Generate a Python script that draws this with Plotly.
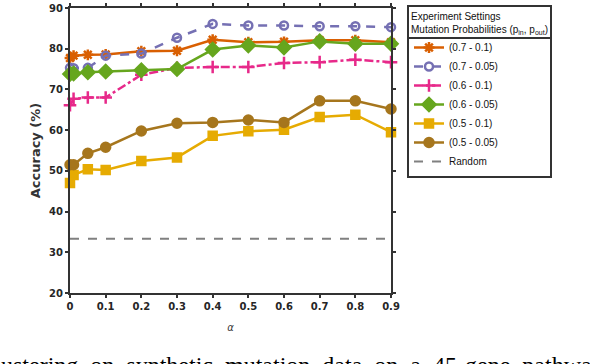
import plotly.graph_objects as go

# alpha values (x axis)
alpha = [0, 0.01, 0.05, 0.1, 0.2, 0.3, 0.4, 0.5, 0.6, 0.7, 0.8, 0.9]

# accuracy (%) per experiment setting
acc_07_01 = [77.7, 78.3, 78.5, 78.6, 79.4, 79.5, 82.2, 81.6, 81.7, 82.1, 82.1, 81.6]
acc_07_005 = [75.3, 75.2, 75.3, 78.3, 78.8, 82.7, 86.1, 85.7, 85.7, 85.5, 85.5, 85.3]
acc_06_01 = [66.1, 67.7, 68.0, 68.0, 73.6, 75.3, 75.5, 75.5, 76.5, 76.7, 77.3, 76.7]
acc_06_005 = [73.8, 73.9, 74.2, 74.4, 74.7, 75.0, 79.8, 80.8, 80.3, 81.8, 81.2, 81.2]
acc_05_01 = [47.0, 49.0, 50.4, 50.2, 52.4, 53.3, 58.6, 59.7, 60.1, 63.2, 63.8, 59.5]
acc_05_005 = [51.5, 51.5, 54.3, 55.8, 59.8, 61.7, 61.9, 62.5, 61.9, 67.2, 67.2, 65.2]
random_acc = 33.3

x_ticks = [0, 0.1, 0.2, 0.3, 0.4, 0.5, 0.6, 0.7, 0.8, 0.9]
x_tick_text = ["0", "0.1", "0.2", "0.3", "0.4", "0.5", "0.6", "0.7", "0.8", "0.9"]
y_ticks = [20, 30, 40, 50, 60, 70, 80, 90]

caption = "ustering on synthetic mutation data on a 45-gene pathway"

W, H = 590, 364

fig = go.Figure()

series = [
    ("(0.7 - 0.1)", acc_07_01, "#D95F02", "solid", "asterisk-open", 9),
    ("(0.7 - 0.05)", acc_07_005, "#7570B3", "dash", "circle-open", 8),
    ("(0.6 - 0.1)", acc_06_01, "#E7298A", "dashdot", "cross-thin-open", 9),
    ("(0.6 - 0.05)", acc_06_005, "#66A61E", "solid", "diamond", 10),
    ("(0.5 - 0.1)", acc_05_01, "#E6AB02", "solid", "square", 8),
    ("(0.5 - 0.05)", acc_05_005, "#A6761D", "solid", "circle", 9),
]

for name, vals, col, dash, sym, size in series:
    fig.add_trace(go.Scatter(
        x=alpha, y=vals, name=name, mode="lines+markers",
        line=dict(color=col, width=2.5, dash=dash),
        marker=dict(symbol=sym, size=size, color=col,
                    line=dict(color=col, width=2.5)),
        cliponaxis=False,
    ))

fig.add_trace(go.Scatter(
    x=[x_ticks[0], x_ticks[-1]], y=[random_acc, random_acc], name="Random",
    mode="lines", line=dict(color="#808080", width=2, dash="dash"),
))

axis_common = dict(
    showline=True, linecolor="#333333", linewidth=2, mirror="ticks",
    ticks="outside", ticklen=3, tickwidth=2, tickcolor="#333333",
    showgrid=False, zeroline=False, automargin=False,
    tickfont=dict(family="DejaVu Sans", size=10, color="#262626", weight="bold"),
)

fig.update_xaxes(range=[0, 0.9], tickvals=x_ticks, ticktext=x_tick_text,
                 title=dict(text="<i>α</i>", font=dict(family="DejaVu Sans", size=10, color="#333333"), standoff=13),
                 **axis_common)
fig.update_yaxes(range=[20, 90], tickvals=y_ticks,
                 title=dict(text="<b>Accuracy (%)</b>", font=dict(family="DejaVu Sans", size=13, color="#333333"), standoff=6),
                 **axis_common)

fig.update_layout(
    width=W, height=H,
    margin=dict(l=70, r=199, t=8, b=71),
    plot_bgcolor="white", paper_bgcolor="white",
    font=dict(family="DejaVu Sans", color="#262626"),
    legend=dict(
        xref="container", yref="container",
        x=407 / W, xanchor="left", y=1 - 5 / H, yanchor="top",
        bordercolor="#333333", borderwidth=2, bgcolor="rgba(0,0,0,0)",
        font=dict(family="Liberation Sans", size=10, color="#111111"),
        title=dict(text="Experiment Settings<br>Mutation Probabilities (p<sub>in</sub>, p<sub>out</sub>)",
                   side="top center",
                   font=dict(family="Liberation Sans", size=10, color="#111111")),
        itemwidth=30, tracegroupgap=0,
    ),
    shapes=[dict(type="line", xref="paper", yref="paper",
                 x0=(407 - 70) / 321, x1=(551 - 70) / 321,
                 y0=(293 - 38) / 285, y1=(293 - 38) / 285,
                 line=dict(color="#333333", width=2))],
    annotations=[dict(
        text=caption.replace(" ", " \u200a\u200a\u200a"),
        xref="paper", yref="paper", x=-71 / 321, y=-(380 - 293) / 285,
        xanchor="left", yanchor="bottom", showarrow=False,
        font=dict(family="Liberation Serif", size=24, color="black"),
    )],
)

# drop the browser's default body margin so the figure sits at (0, 0)
fig.write_html("out.html", config={"displayModeBar": False},
               post_script="document.body.style.margin='0';")
